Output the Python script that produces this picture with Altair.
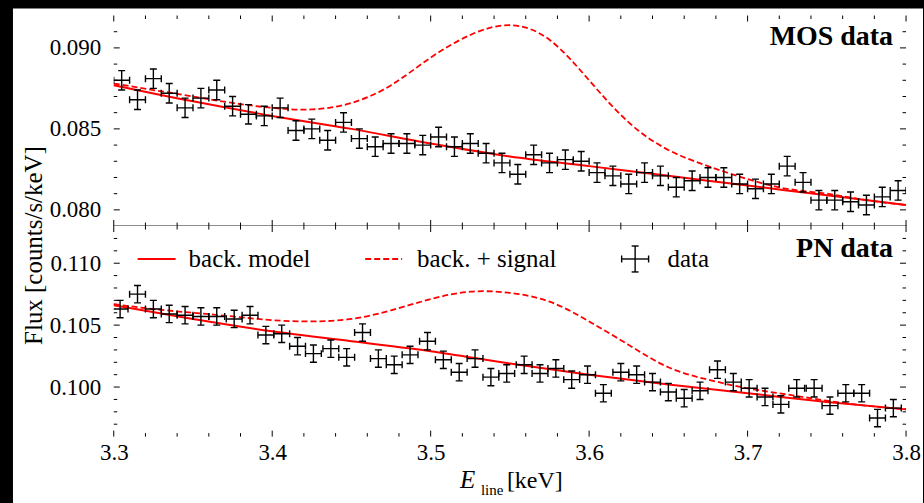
import altair as alt
import pandas as pd

# ---------------- data ----------------
mos_energy = [3.305, 3.315, 3.325, 3.335, 3.345, 3.355, 3.365, 3.375, 3.385, 3.395,
              3.405, 3.415, 3.425, 3.435, 3.445, 3.455, 3.465, 3.475, 3.485, 3.495,
              3.505, 3.515, 3.525, 3.535, 3.545, 3.555, 3.565, 3.575, 3.585, 3.595,
              3.605, 3.615, 3.625, 3.635, 3.645, 3.655, 3.665, 3.675, 3.685, 3.695,
              3.705, 3.715, 3.725, 3.735, 3.745, 3.755, 3.765, 3.775, 3.785, 3.795]
mos_flux = [0.0880, 0.0868, 0.0881, 0.0872, 0.0863, 0.0869, 0.0874, 0.0864, 0.0859, 0.0858,
            0.0863, 0.0849, 0.0850, 0.0843, 0.0854, 0.0844, 0.0839, 0.0841, 0.0841, 0.0840,
            0.0845, 0.0839, 0.0841, 0.0835, 0.0829, 0.0822, 0.0834, 0.0829, 0.0831, 0.0830,
            0.0823, 0.0821, 0.0816, 0.0823, 0.0821, 0.0814, 0.0818, 0.0820, 0.0820, 0.0816,
            0.0813, 0.0816, 0.0827, 0.0817, 0.0806, 0.0806, 0.0805, 0.0803, 0.0808, 0.0812]
mos_err = 0.0006

pn_energy = [3.304, 3.315, 3.325, 3.335, 3.345, 3.355, 3.365, 3.376, 3.386, 3.396,
             3.406, 3.416, 3.426, 3.437, 3.447, 3.457, 3.467, 3.477, 3.487, 3.498,
             3.508, 3.518, 3.528, 3.538, 3.548, 3.559, 3.569, 3.579, 3.589, 3.599,
             3.609, 3.620, 3.630, 3.640, 3.650, 3.660, 3.670, 3.681, 3.691, 3.701,
             3.711, 3.721, 3.731, 3.742, 3.752, 3.762, 3.772, 3.782, 3.792]
pn_flux = [0.1063, 0.1075, 0.1063, 0.1059, 0.1058, 0.1057, 0.1057, 0.1055, 0.1058, 0.1042,
           0.1043, 0.1033, 0.1027, 0.1031, 0.1024, 0.1044, 0.1023, 0.1018, 0.1026, 0.1037,
           0.1022, 0.1012, 0.1023, 0.1008, 0.1011, 0.1018, 0.1011, 0.1015, 0.1006, 0.1010,
           0.0995, 0.1012, 0.1010, 0.1004, 0.0996, 0.0991, 0.0997, 0.1014, 0.1004, 0.0999,
           0.0992, 0.0986, 0.0999, 0.0999, 0.0985, 0.0995, 0.0995, 0.0975, 0.0983]
pn_err = 0.0007
half_bin = 0.005

back_energy = [3.30, 3.35, 3.40, 3.45, 3.50, 3.55, 3.60, 3.65, 3.70, 3.75, 3.80]
mos_back = [0.0877, 0.0867, 0.0858, 0.0850, 0.0841, 0.0833, 0.0827, 0.0821, 0.0815, 0.0809, 0.0803]
pn_back = [0.1066, 0.1055, 0.1045, 0.1037, 0.1029, 0.1019, 0.1010, 0.1002, 0.0995, 0.0988, 0.0982]

sig_energy = [3.300, 3.325, 3.350, 3.375, 3.400, 3.425, 3.450, 3.475, 3.500, 3.525, 3.550,
              3.575, 3.600, 3.625, 3.650, 3.675, 3.700, 3.725, 3.750, 3.775, 3.800]
mos_sig = [0.0878, 0.0874, 0.0870, 0.0866, 0.0863, 0.0862, 0.0866, 0.0877, 0.0894, 0.0908, 0.0914,
           0.0905, 0.0880, 0.0854, 0.0837, 0.0827, 0.0819, 0.0813, 0.0810, 0.0806, 0.0803]
pn_sig = [0.1067, 0.1063, 0.1060, 0.1057, 0.1054, 0.1053, 0.1055, 0.1062, 0.1071, 0.1077, 0.1076,
          0.1069, 0.1053, 0.1034, 0.1016, 0.1006, 0.0999, 0.0994, 0.0989, 0.0985, 0.0982]

x_domain = [3.3, 3.8]
x_major = [3.3, 3.4, 3.5, 3.6, 3.7, 3.8]
x_minor = [3.32, 3.34, 3.36, 3.38, 3.42, 3.44, 3.46, 3.48, 3.52, 3.54, 3.56, 3.58,
           3.62, 3.64, 3.66, 3.68, 3.72, 3.74, 3.76, 3.78]
mos_domain = [0.079, 0.092]
mos_y_major = [0.080, 0.085, 0.090]
mos_y_minor = [0.081, 0.082, 0.083, 0.084, 0.086, 0.087, 0.088, 0.089, 0.091]
pn_domain = [0.096, 0.113]
pn_y_major = [0.100, 0.105, 0.110]
pn_y_minor = [0.097, 0.098, 0.099, 0.101, 0.102, 0.103, 0.104, 0.106, 0.107, 0.108,
              0.109, 0.111, 0.112]

# ---------------- styling ----------------
SERIF = "Liberation Serif"
RED = "#ff0000"
W, H = 794, 211
MAJ, MIN = 6, 3.5
ONE = pd.DataFrame({"d": [0]})


def panel(name, energy, flux, err, back, sig, y_domain, y_major, y_minor, bottom):
    xs = alt.Scale(domain=x_domain, nice=False, zero=False)
    ys = alt.Scale(domain=y_domain, nice=False, zero=False)
    common = dict(ticks=False, domain=False, grid=False, labelFont=SERIF, labelFontSize=23,
                  labelColor="black", labelFlush=False, labelOverlap=False, zindex=1)
    if bottom:
        xaxis = alt.Axis(values=x_major, format=".1f", labelPadding=5, title=None, **common)
        yaxis = alt.Axis(values=y_major, format=".3f", labelPadding=13,
                         title="Flux [counts/s/keV]", titleFont=SERIF, titleFontSize=25,
                         titleFontWeight="normal", titleColor="black", titlePadding=3, titleY=19,
                         **common)
    else:
        xaxis = None
        yaxis = alt.Axis(values=y_major, format=".3f", labelPadding=13, title=None, **common)

    def X(f):
        return alt.X(f + ":Q", scale=xs, axis=xaxis)

    def Y(f):
        return alt.Y(f + ":Q", scale=ys, axis=yaxis)

    layers = []
    # white figure area (page background is black)
    layers.append(alt.Chart(ONE).mark_rect(color="white").encode(
        x=alt.value(-101), x2=alt.value(811),
        y=alt.value(0 if bottom else -7), y2=alt.value(278 if bottom else H)))

    # inward ticks on all four sides
    for vals, L in ((x_major, MAJ), (x_minor, MIN)):
        d = pd.DataFrame({"e": vals})
        layers.append(alt.Chart(d).mark_rule(color="black", strokeWidth=1).encode(
            x=X("e"), y=alt.value(0), y2=alt.value(L)))
        layers.append(alt.Chart(d).mark_rule(color="black", strokeWidth=1).encode(
            x=X("e"), y=alt.value(H), y2=alt.value(H - L)))
    for vals, L in ((y_major, MAJ), (y_minor, MIN)):
        d = pd.DataFrame({"v": vals})
        layers.append(alt.Chart(d).mark_rule(color="black", strokeWidth=1).encode(
            y=Y("v"), x=alt.value(0), x2=alt.value(L)))
        layers.append(alt.Chart(d).mark_rule(color="black", strokeWidth=1).encode(
            y=Y("v"), x=alt.value(W), x2=alt.value(W - L)))

    # model curves
    bdf = pd.DataFrame({"energy": back_energy, "flux": back})
    sdf = pd.DataFrame({"energy": sig_energy, "flux": sig})
    layers.append(alt.Chart(bdf).mark_line(color=RED, strokeWidth=2, interpolate="monotone").encode(
        x=X("energy"), y=Y("flux")))
    layers.append(alt.Chart(sdf).mark_line(color=RED, strokeWidth=1.8, strokeDash=[6, 3],
                                           interpolate="natural").encode(
        x=X("energy"), y=Y("flux")))

    # data with error bars
    df = pd.DataFrame({"energy": energy, "flux": flux})
    df["lo"] = df["energy"] - half_bin
    df["hi"] = df["energy"] + half_bin
    df["ylo"] = df["flux"] - err
    df["yhi"] = df["flux"] + err
    base = alt.Chart(df)
    layers.append(base.mark_rule(color="black", strokeWidth=1.4, clip=True).encode(
        x=X("lo"), x2=alt.X2("hi"), y=Y("flux")))
    layers.append(base.mark_rule(color="black", strokeWidth=1.4, clip=True).encode(
        x=X("energy"), y=Y("ylo"), y2=alt.Y2("yhi")))
    for yf in ("ylo", "yhi"):
        layers.append(base.mark_tick(orient="horizontal", size=7, thickness=1.4, color="black",
                                     opacity=1, clip=True).encode(x=X("energy"), y=Y(yf)))
    for xf in ("lo", "hi"):
        layers.append(base.mark_tick(orient="vertical", size=7, thickness=1.4, color="black",
                                     opacity=1, clip=True).encode(x=X(xf), y=Y("flux")))

    # panel label
    layers.append(alt.Chart(ONE).mark_text(text=name, font=SERIF, fontSize=28, fontWeight="bold",
                                           align="right", baseline="alphabetic", color="black").encode(
        x=alt.value(781), y=alt.value(31 if bottom else 30)))

    if bottom:
        def seg(x1, x2, y1, y2, **kw):
            return alt.Chart(ONE).mark_rule(**kw).encode(
                x=alt.value(x1), x2=alt.value(x2), y=alt.value(y1), y2=alt.value(y2))

        def txt(s, x, y, size, **kw):
            return alt.Chart(ONE).mark_text(text=s, font=SERIF, fontSize=size, align="left",
                                            baseline="alphabetic", color="black", **kw).encode(
                x=alt.value(x), y=alt.value(y))

        # legend
        layers.append(seg(24, 62, 33, 33, color=RED, strokeWidth=2))
        layers.append(txt("back. model", 75, 41, 25))
        layers.append(seg(252, 289, 33, 33, color=RED, strokeWidth=1.8, strokeDash=[6, 3]))
        layers.append(txt("back. + signal", 304, 41, 25))
        k = dict(color="black", strokeWidth=1.4)
        layers.append(seg(509, 536, 33, 33, **k))
        layers.append(seg(522.5, 522.5, 20, 46, **k))
        layers.append(seg(509, 509, 29.5, 36.5, **k))
        layers.append(seg(536, 536, 29.5, 36.5, **k))
        layers.append(seg(519, 526, 20, 20, **k))
        layers.append(seg(519, 526, 46, 46, **k))
        layers.append(txt("data", 555, 41, 25))
        # x axis title: E_line [keV]
        layers.append(txt("E", 347, 263, 25, fontStyle="italic"))
        layers.append(txt("line", 368, 270, 15))
        layers.append(txt("[keV]", 394, 263, 24))

    return alt.layer(*layers).properties(width=W, height=H)


top = panel("MOS data", mos_energy, mos_flux, mos_err, mos_back, mos_sig,
            mos_domain, mos_y_major, mos_y_minor, False)
bot = panel("PN data", pn_energy, pn_flux, pn_err, pn_back, pn_sig,
            pn_domain, pn_y_major, pn_y_minor, True)

chart = (
    alt.vconcat(top, bot, spacing=0, bounds="flush")
    .resolve_scale(x="independent", y="independent")
    .properties(background="black", padding={"left": 12, "top": 7, "right": 0, "bottom": 0})
    .configure_view(stroke="#1a1a1a", strokeWidth=1.3, fill="white")
)

chart.save("out.html", embed_options={"renderer": "svg", "actions": False})
